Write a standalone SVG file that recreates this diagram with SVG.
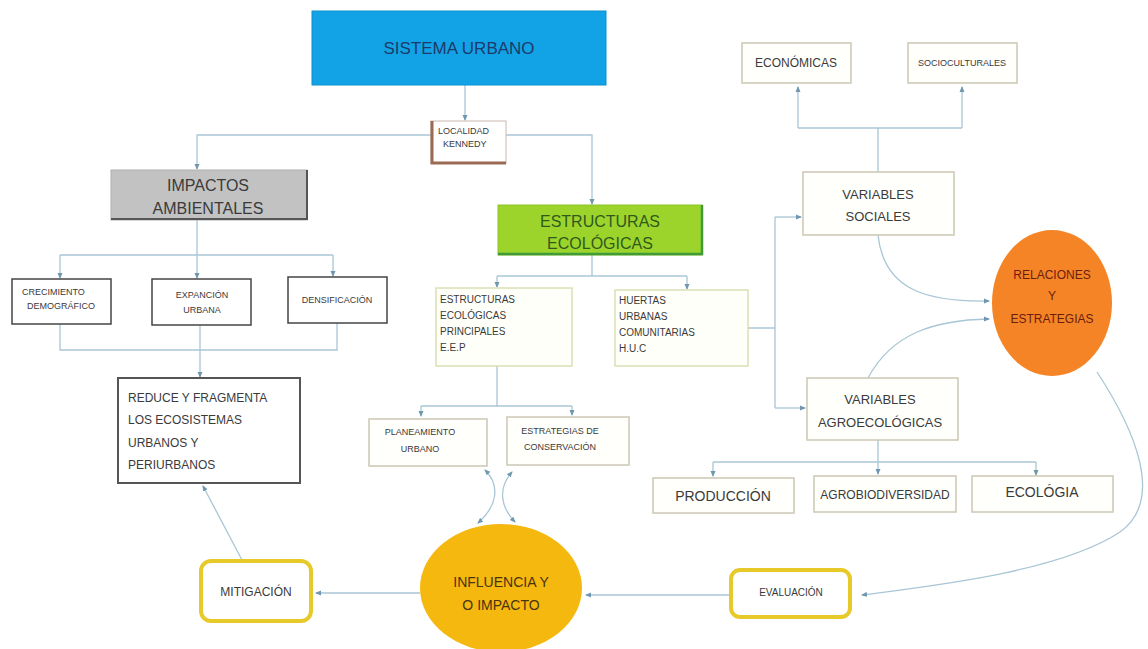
<svg xmlns="http://www.w3.org/2000/svg" width="1148" height="649" viewBox="0 0 1148 649">
<style>
text{font-family:"Liberation Sans","Open Sans",Arial,sans-serif;fill:#3a3a3a}
.c{fill:none;stroke:#a9c6d6;stroke-width:1.3}
.box{fill:#fffffc;stroke:#cdc7b4;stroke-width:1.5}
.gbox{fill:#fffffa;stroke:#dcdfb4;stroke-width:1.5}
.m{text-anchor:middle}
.s9{font-size:9px}
.s10{font-size:10px}
.s12{font-size:12px}
.s13{font-size:13px}
.s14{font-size:14px}
.s16{font-size:16px}
.ybox{fill:#fff;stroke:#e8c92a;stroke-width:4}
</style>
<defs>
<marker id="a" markerWidth="6" markerHeight="6" refX="5" refY="3" orient="auto-start-reverse" markerUnits="userSpaceOnUse"><path d="M0,0.5 L6,3 L0,5.5 z" fill="#6f98b0"/></marker>
</defs>
<rect width="1148" height="649" fill="#ffffff"/>

<g id="connectors">
<path class="c" d="M465,85 V120" marker-end="url(#a)"/>
<path class="c" d="M431,135 H197 V169" marker-end="url(#a)"/>
<path class="c" d="M506,135 H592 V204" marker-end="url(#a)"/>
<path class="c" d="M197,220 V255 M60,255 H333"/>
<path class="c" d="M60,255 V278" marker-end="url(#a)"/>
<path class="c" d="M197,255 V278" marker-end="url(#a)"/>
<path class="c" d="M333,255 V276" marker-end="url(#a)"/>
<path class="c" d="M60,324 V350 H337 V323"/>
<path class="c" d="M200,325 V377" marker-end="url(#a)"/>
<path class="c" d="M242,560 L203,486" marker-end="url(#a)"/>
<path class="c" d="M420,593 H316" marker-end="url(#a)"/>
<path class="c" d="M729,595 H586" marker-end="url(#a)"/>
<path class="c" d="M1097,372 C1135,430 1165,500 1120,532 C1060,572 930,586 862,595" marker-end="url(#a)"/>
<path class="c" d="M592,255 V276 M497,276 H687"/>
<path class="c" d="M497,276 V287" marker-end="url(#a)"/>
<path class="c" d="M687,276 V289" marker-end="url(#a)"/>
<path class="c" d="M497,366 V406 M421,406 H572"/>
<path class="c" d="M421,406 V416" marker-end="url(#a)"/>
<path class="c" d="M572,406 V415" marker-end="url(#a)"/>
<path class="c" d="M485,470 C500,485 498,505 478,523" marker-start="url(#a)" marker-end="url(#a)"/>
<path class="c" d="M512,472 C498,488 500,506 515,522" marker-start="url(#a)" marker-end="url(#a)"/>
<path class="c" d="M748,328 H775 M775,217 V408"/>
<path class="c" d="M775,217 H801" marker-end="url(#a)"/>
<path class="c" d="M775,408 H805" marker-end="url(#a)"/>
<path class="c" d="M878,172 V128 M798,128 H962"/>
<path class="c" d="M798,128 V87" marker-end="url(#a)"/>
<path class="c" d="M962,128 V87" marker-end="url(#a)"/>
<path class="c" d="M878,235 C884,292 930,302 989,301" marker-end="url(#a)"/>
<path class="c" d="M868,378 C892,333 935,320 989,319" marker-end="url(#a)"/>
<path class="c" d="M878,440 V462 M713,462 H1036"/>
<path class="c" d="M713,462 V476" marker-end="url(#a)"/>
<path class="c" d="M878,462 V474" marker-end="url(#a)"/>
<path class="c" d="M1036,462 V475" marker-end="url(#a)"/>
</g>

<g id="sistema-urbano">
<rect x="312" y="11" width="294" height="74" fill="#11a3e6" stroke="#0b8fd0" stroke-width="1"/>
<text x="459" y="54" class="m" style="font-size:17px;fill:#1d3a6b">SISTEMA URBANO</text>
</g>

<g id="localidad-kennedy">
<rect x="431" y="121" width="75" height="42" fill="#fff" stroke="#c9b8ae" stroke-width="1"/>
<path d="M432,121 V163 H506" fill="none" stroke="#9b6a55" stroke-width="3"/>
<text x="438" y="134" class="s9">LOCALIDAD</text>
<text x="443" y="147" class="s9">KENNEDY</text>
</g>

<g id="impactos-ambientales">
<rect x="111" y="170" width="196" height="50" fill="#c2c2c2" stroke="#b0b0b0" stroke-width="1"/>
<path d="M111,219 H307 V170" fill="none" stroke="#555" stroke-width="2"/>
<text x="208" y="191" class="m s16">IMPACTOS</text>
<text x="208" y="214" class="m s16">AMBIENTALES</text>
</g>

<g id="estructuras-ecologicas">
<rect x="498" y="205" width="204" height="50" fill="#9dd42c" stroke="#8cc426" stroke-width="1"/>
<path d="M498,254 H702 V205" fill="none" stroke="#3f9b3a" stroke-width="2.5"/>
<text x="600" y="227" class="m s16" style="fill:#2f5a1c">ESTRUCTURAS</text>
<text x="600" y="249" class="m s16" style="fill:#2f5a1c">ECOLÓGICAS</text>
</g>

<g id="crecimiento">
<rect x="12" y="279" width="99" height="45" fill="#fff" stroke="#444" stroke-width="1.5"/>
<text x="22" y="295" class="s9">CRECIMIENTO</text>
<text x="27" y="309" class="s9">DEMOGRÁFICO</text>
</g>

<g id="expancion">
<rect x="152" y="279" width="99" height="46" fill="#fff" stroke="#444" stroke-width="1.5"/>
<text x="202" y="298" class="m s9">EXPANCIÓN</text>
<text x="202" y="313" class="m s9">URBANA</text>
</g>

<g id="densificacion">
<rect x="288" y="277" width="99" height="46" fill="#fff" stroke="#444" stroke-width="1.5"/>
<text x="337" y="303" class="m s9">DENSIFICACIÓN</text>
</g>

<g id="reduce">
<rect x="118" y="378" width="182" height="105" fill="#fff" stroke="#555" stroke-width="2"/>
<text x="128" y="402" class="s12">REDUCE Y FRAGMENTA</text>
<text x="128" y="424" class="s12">LOS ECOSISTEMAS</text>
<text x="128" y="447" class="s12">URBANOS Y</text>
<text x="128" y="469" class="s12">PERIURBANOS</text>
</g>

<g id="mitigacion">
<rect x="201" y="561" width="110" height="60" rx="10" class="ybox"/>
<text x="256" y="596" class="m s12">MITIGACIÓN</text>
</g>

<g id="eep">
<rect x="436" y="288" width="136" height="78" class="gbox"/>
<text x="440" y="303" class="s10">ESTRUCTURAS</text>
<text x="440" y="319" class="s10">ECOLÓGICAS</text>
<text x="440" y="335" class="s10">PRINCIPALES</text>
<text x="440" y="351" class="s10">E.E.P</text>
</g>

<g id="huc">
<rect x="615" y="290" width="133" height="76" class="gbox"/>
<text x="619" y="304" class="s10">HUERTAS</text>
<text x="619" y="320" class="s10">URBANAS</text>
<text x="619" y="336" class="s10">COMUNITARIAS</text>
<text x="619" y="352" class="s10">H.U.C</text>
</g>

<g id="planeamiento">
<rect x="369" y="419" width="118" height="47" class="box"/>
<text x="420" y="435" class="m s9">PLANEAMIENTO</text>
<text x="420" y="452" class="m s9">URBANO</text>
</g>

<g id="estrategias-conservacion">
<rect x="507" y="417" width="122" height="48" class="box"/>
<text x="560" y="434" class="m s9">ESTRATEGIAS DE</text>
<text x="560" y="450" class="m s9">CONSERVACIÓN</text>
</g>

<g id="influencia">
<ellipse cx="501" cy="588" rx="81" ry="64" fill="#f5b80e"/>
<text x="501" y="587" class="m s14" style="fill:#4a3312">INFLUENCIA Y</text>
<text x="501" y="610" class="m s14" style="fill:#4a3312">O IMPACTO</text>
</g>

<g id="evaluacion">
<rect x="731" y="570" width="119" height="47" rx="9" class="ybox"/>
<text x="791" y="596" class="m s10">EVALUACIÓN</text>
</g>

<g id="economicas">
<rect x="742" y="43" width="109" height="40" class="box"/>
<text x="796" y="67" class="m s12">ECONÓMICAS</text>
</g>

<g id="socioculturales">
<rect x="908" y="43" width="109" height="40" class="box"/>
<text x="962" y="66" class="m s9">SOCIOCULTURALES</text>
</g>

<g id="variables-sociales">
<rect x="803" y="172" width="151" height="63" class="box"/>
<text x="878" y="199" class="m s13">VARIABLES</text>
<text x="878" y="221" class="m s13">SOCIALES</text>
</g>

<g id="relaciones">
<ellipse cx="1052" cy="303" rx="60" ry="73" fill="#f58426"/>
<text x="1052" y="279" class="m s12" style="fill:#6b1d10">RELACIONES</text>
<text x="1052" y="300" class="m s12" style="fill:#6b1d10">Y</text>
<text x="1052" y="323" class="m s12" style="fill:#6b1d10">ESTRATEGIAS</text>
</g>

<g id="variables-agroecologicas">
<rect x="807" y="378" width="151" height="62" class="box"/>
<text x="880" y="404" class="m s13">VARIABLES</text>
<text x="880" y="427" class="m s13">AGROECOLÓGICAS</text>
</g>

<g id="produccion">
<rect x="653" y="478" width="141" height="35" class="box"/>
<text x="723" y="501" class="m s14">PRODUCCIÓN</text>
</g>

<g id="agrobiodiversidad">
<rect x="814" y="476" width="142" height="36" class="box"/>
<text x="885" y="499" class="m s12">AGROBIODIVERSIDAD</text>
</g>

<g id="ecologia">
<rect x="972" y="476" width="141" height="36" class="box"/>
<text x="1042" y="497" class="m s14">ECOLÓGIA</text>
</g>
</svg>
